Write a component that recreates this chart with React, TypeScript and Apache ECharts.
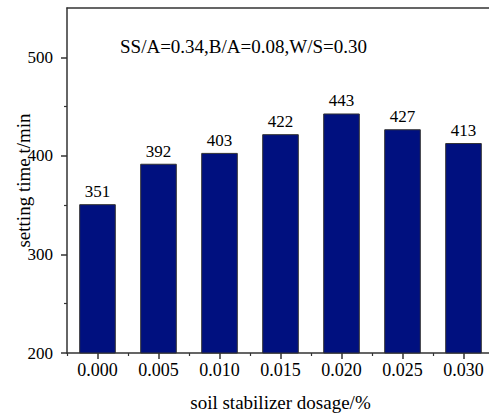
import React, { useEffect, useRef } from "react";
import * as echarts from "echarts";

const categories = ["0.000", "0.005", "0.010", "0.015", "0.020", "0.025", "0.030"];
const settingTimes = [351, 392, 403, 422, 443, 427, 413];
const yMajorTicks = [200, 300, 400, 500];
const yMinorTicks = [250, 350, 450];
const annotation = "SS/A=0.34,B/A=0.08,W/S=0.30";

const FONT = "Liberation Serif";
const AX = "#333333";

export default function App() {
  const ref = useRef<HTMLDivElement>(null);
  useEffect(() => {
    if (!ref.current) return;
    const chart = echarts.init(ref.current, undefined, { renderer: "svg" });
    chart.setOption({
      animation: false,
      backgroundColor: "#ffffff",
      textStyle: { fontFamily: FONT },
      grid: {
        left: 67,
        top: 8,
        width: 427,
        height: 345,
        outerBoundsMode: "none",
        containLabel: false,
        show: false,
      },
      graphic: [
        {
          type: "text",
          left: 120,
          top: 37,
          style: { text: annotation, fontFamily: FONT, fontSize: 19, fill: "#000" },
        },
      ],
      xAxis: [
        {
          type: "category",
          data: categories,
          position: "bottom",
          name: "soil stabilizer dosage/%",
          nameLocation: "middle",
          nameGap: 40,
          nameMoveOverlap: false,
          nameTextStyle: { fontFamily: FONT, fontSize: 19, color: "#000" },
          axisLine: { show: true, lineStyle: { color: AX, width: 1.5 } },
          axisTick: { show: true, alignWithLabel: true, length: 6, lineStyle: { color: AX, width: 1.5 } },
          axisLabel: { margin: 8, fontFamily: FONT, fontSize: 18, color: "#000" },
          splitLine: { show: false },
        },
        {
          type: "category",
          data: categories,
          position: "bottom",
          axisLine: { show: false },
          axisTick: { show: true, alignWithLabel: false, length: 3, lineStyle: { color: AX, width: 1.2 } },
          axisLabel: { show: false },
          splitLine: { show: false },
        },
        {
          type: "category",
          data: categories,
          position: "top",
          axisLine: { show: true, lineStyle: { color: AX, width: 1.5 } },
          axisTick: { show: false },
          axisLabel: { show: false },
          splitLine: { show: false },
        },
      ],
      yAxis: [
        {
          type: "value",
          min: 200,
          max: 550,
          position: "left",
          name: "setting time t/min",
          nameLocation: "middle",
          nameGap: 34,
          nameMoveOverlap: false,
          nameTextStyle: { fontFamily: FONT, fontSize: 19, color: "#000" },
          axisLine: { show: true, lineStyle: { color: AX, width: 1.5 } },
          axisTick: { show: true, length: 6, customValues: yMajorTicks, lineStyle: { color: AX, width: 1.5 } },
          axisLabel: { margin: 14, fontFamily: FONT, fontSize: 17, color: "#000", customValues: yMajorTicks },
          splitLine: { show: false },
        },
        {
          type: "value",
          min: 200,
          max: 550,
          position: "left",
          axisLine: { show: false },
          axisTick: { show: true, length: 3, customValues: yMinorTicks, lineStyle: { color: AX, width: 1.2 } },
          axisLabel: { show: false },
          splitLine: { show: false },
        },
      ],
      series: [
        {
          type: "bar",
          data: settingTimes,
          xAxisIndex: 0,
          yAxisIndex: 0,
          barWidth: "60%",
          itemStyle: { color: "#00107f", borderColor: "#333333", borderWidth: 1 },
          label: {
            show: true,
            position: "top",
            distance: 4,
            fontFamily: FONT,
            fontSize: 17,
            color: "#000",
          },
        },
      ],
    });
    return () => chart.dispose();
  }, []);
  return <div ref={ref} style={{ position: "fixed", left: 0, top: 0, width: 489, height: 415 }} />;
}
